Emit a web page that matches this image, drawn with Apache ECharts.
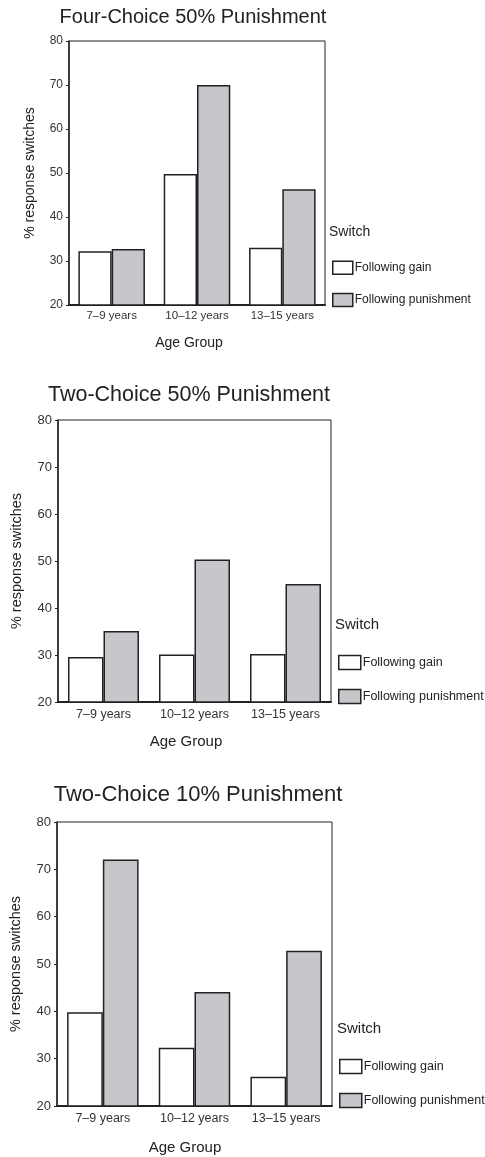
<!DOCTYPE html>
<html>
<head>
<meta charset="utf-8">
<style>
  html, body { margin: 0; padding: 0; background: #fff; }
  .chart { width: 485px; height: 1157px; }
</style>
<script src="https://cdn.jsdelivr.net/npm/echarts@6/dist/echarts.min.js"></script>
</head>
<body>
<div class="chart"></div>
<script>
// data
var ageGroups = ['7–9 years', '10–12 years', '13–15 years'];
var seriesNames = ['Following gain', 'Following punishment'];
var panelTitles = ['Four-Choice 50% Punishment', 'Two-Choice 50% Punishment', 'Two-Choice 10% Punishment'];

var fourChoice50Gain = [32.2, 49.8, 33.0];
var fourChoice50Punish = [32.7, 70.0, 46.3];
var twoChoice50Gain = [29.6, 30.1, 30.2];
var twoChoice50Punish = [35.1, 50.3, 45.1];
var twoChoice10Gain = [39.8, 32.3, 26.2];
var twoChoice10Punish = [72.1, 44.1, 52.8];

var yMin = 20, yMax = 80, yStep = 10;

(function(){
	var myChart = echarts.init(document.querySelector('.chart'));
	var font = '"Liberation Sans", Arial, sans-serif';
	var ink = '#222';
	var grey = '#c6c7ca';

	// layout of each panel (pixels)
	var panels = [
		{ grid: { left: 69, top: 41, width: 256, height: 264 }, gain: fourChoice50Gain, punish: fourChoice50Punish,
		  title: [193, 17, 20], switchAt: [329, 232, 14], ageAt: [189, 343, 14],
		  legend: { left: 332, top: 260.5, w: 20, h: 13, gap: 17.7, fs: 12 },
		  nameGap: 32, nameFs: 14, tickFs: 12, xFs: 11.5, xMargin: 5 },
		{ grid: { left: 58, top: 420, width: 273, height: 282 }, gain: twoChoice50Gain, punish: twoChoice50Punish,
		  title: [189, 395, 21.5], switchAt: [335, 625, 15], ageAt: [186, 742, 15],
		  legend: { left: 338, top: 654.7, w: 22, h: 14, gap: 18.6, fs: 12.5 },
		  nameGap: 34, nameFs: 14.5, tickFs: 13, xFs: 12.5, xMargin: 6 },
		{ grid: { left: 57, top: 822, width: 275, height: 284 }, gain: twoChoice10Gain, punish: twoChoice10Punish,
		  title: [198, 795, 22], switchAt: [337, 1029, 15], ageAt: [185, 1148, 15],
		  legend: { left: 339, top: 1058.7, w: 22, h: 14, gap: 18.6, fs: 12.5 },
		  nameGap: 34, nameFs: 14.5, tickFs: 13, xFs: 12.5, xMargin: 6 }
	];

	var grid = [], xAxis = [], yAxis = [], series = [], legend = [], graphic = [];

	panels.forEach(function(p, i){
		grid.push({
			left: p.grid.left, top: p.grid.top, width: p.grid.width, height: p.grid.height,
			outerBoundsMode: 'none',
			show: true, borderColor: ink, borderWidth: 1, backgroundColor: 'transparent'
		});
		xAxis.push({
			type: 'category',
			gridIndex: i,
			data: ageGroups,
			axisLine: { lineStyle: { color: ink, width: 2 } },
			axisTick: { alignWithLabel: true, length: 3, lineStyle: { color: ink } },
			axisLabel: { color: '#333', fontSize: p.xFs, fontFamily: font, margin: p.xMargin, interval: 0 }
		});
		yAxis.push({
			type: 'value',
			gridIndex: i,
			min: yMin,
			max: yMax,
			interval: yStep,
			name: '% response switches',
			nameLocation: 'middle',
			nameGap: p.nameGap,
			nameTextStyle: { color: ink, fontSize: p.nameFs, fontFamily: font },
			axisLine: { show: true, lineStyle: { color: ink, width: 1.5 } },
			axisTick: { show: true, length: 3, lineStyle: { color: ink } },
			axisLabel: { color: '#333', fontSize: p.tickFs, fontFamily: font, margin: 6 },
			splitLine: { show: false }
		});
		series.push({
			name: seriesNames[0],
			type: 'bar',
			xAxisIndex: i,
			yAxisIndex: i,
			barGap: '0%',
			barCategoryGap: '22%',
			itemStyle: { color: '#fff', borderColor: ink, borderWidth: 1.5 },
			data: p.gain
		});
		series.push({
			name: seriesNames[1],
			type: 'bar',
			xAxisIndex: i,
			yAxisIndex: i,
			barGap: '0%',
			barCategoryGap: '22%',
			itemStyle: { color: grey, borderColor: ink, borderWidth: 1.5 },
			data: p.punish
		});
		legend.push({
			data: seriesNames,
			orient: 'vertical',
			left: p.legend.left,
			top: p.legend.top,
			padding: 0,
			itemWidth: p.legend.w,
			itemHeight: p.legend.h,
			itemGap: p.legend.gap,
			icon: 'rect',
			selectedMode: false,
			textStyle: { color: ink, fontSize: p.legend.fs, lineHeight: p.legend.h, fontFamily: font, padding: [0, 0, 0, -3] },
			itemStyle: { borderColor: ink, borderWidth: 1.5 }
		});
		// panel title, legend heading and x-axis name
		graphic.push({
			type: 'text', x: p.title[0], y: p.title[1],
			style: { text: panelTitles[i], fill: ink, font: p.title[2] + 'px ' + font, textAlign: 'center', textVerticalAlign: 'middle' }
		});
		graphic.push({
			type: 'text', x: p.switchAt[0], y: p.switchAt[1],
			style: { text: 'Switch', fill: ink, font: p.switchAt[2] + 'px ' + font, textAlign: 'left', textVerticalAlign: 'middle' }
		});
		graphic.push({
			type: 'text', x: p.ageAt[0], y: p.ageAt[1],
			style: { text: 'Age Group', fill: ink, font: p.ageAt[2] + 'px ' + font, textAlign: 'center', textVerticalAlign: 'middle' }
		});
	});

	var option = {
		backgroundColor: '#fff',
		animation: false,
		grid: grid,
		xAxis: xAxis,
		yAxis: yAxis,
		legend: legend,
		graphic: graphic,
		series: series
	};
	myChart.setOption(option);
	window.addEventListener("resize", function() {
		myChart.resize();
	});
})();
</script>
</body>
</html>
